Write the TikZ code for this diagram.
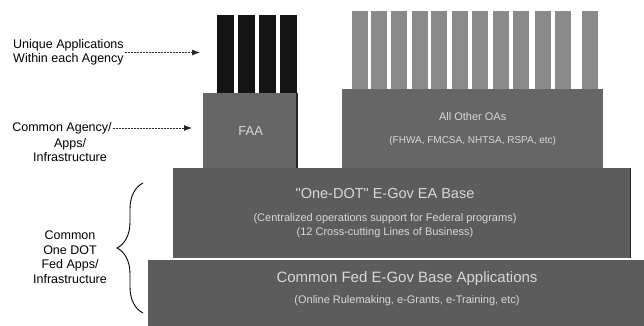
\documentclass[tikz,border=0pt]{standalone}
\usepackage{fontspec}
\setmainfont{Liberation Sans}
\usepackage{tikz}
\usetikzlibrary{shapes.geometric, arrows.meta, positioning, calc, decorations.pathreplacing}
\definecolor{bargray}{HTML}{8A8A8A}
\definecolor{boxgray}{HTML}{666666}
\definecolor{basegray}{HTML}{5C5C5C}
\definecolor{boxtext}{HTML}{D8D8D8}

\tikzset{
  blackbar/.style={fill=black!92, minimum width=16.5pt, minimum height=78pt, inner sep=0pt, anchor=north west},
  graybar/.style={fill=bargray, minimum width=15.5pt, minimum height=78pt, inner sep=0pt, anchor=north west},
  tier/.style={fill=boxgray, text=boxtext, align=center, inner sep=0pt, anchor=north west},
  tiertext/.style={text=boxtext, align=center, inner sep=0pt, font=\fontsize{11}{13.5}\selectfont},
  sidelbl/.style={font=\fontsize{12.5}{14.5}\selectfont, align=center, inner sep=1pt},
  pointer/.style={black!85, line width=0.8pt, dash pattern=on 2pt off 1pt, -{Latex[length=8pt,width=6pt]}}
}

\begin{document}
\begin{tikzpicture}[x=1pt, y=-1pt]
  \useasboundingbox (0,0) rectangle (644,326);

  % Application bars
  \foreach \x in {217,238,259,280} \node[blackbar] (u\x) at (\x,15) {};
  \foreach \x in {352,371,391,412,431,452,472,493,513,535,555,582} \node[graybar] (g\x) at (\x,11) {};

  % Agency tiers
  \node[tier, minimum width=95pt, minimum height=76pt, font=\fontsize{13}{15}\selectfont] (faa) at (203,93) {FAA};
  \draw[black!85, line width=2.5pt] ([xshift=-1.25pt]faa.north east) -- ([xshift=-1.25pt]faa.south east);
  \node[tier, minimum width=261pt, minimum height=80pt, font=\fontsize{10}{12}\selectfont] (oas) at (342,89)
    {{\fontsize{11}{12}\selectfont All Other OAs}\\[11pt] (FHWA, FMCSA, NHTSA, RSPA, etc)};

  % One-DOT and Fed bases
  \node[tier, fill=basegray, minimum width=458pt, minimum height=89.5pt] (ea) at (173,168) {};
  \draw[black!85, line width=1.2pt] ([xshift=-0.6pt]ea.north east) -- ([xshift=-0.6pt]ea.south east);
  \node[tiertext] (eatxt) at (385,213)
    {{\fontsize{14.5}{16}\selectfont \textquotedbl One-DOT\textquotedbl{} E-Gov EA Base}\\[9.5pt]
     (Centralized operations support for Federal programs)\\
     (12 Cross-cutting Lines of Business)};
  \node[tier, fill=basegray, minimum width=510pt, minimum height=70pt] (fed) at (148,259.5) {};
  \node[tiertext] (fedtxt) at (407,288.5)
    {{\fontsize{15}{13}\selectfont Common Fed E-Gov Base Applications}\\[8pt]
     (Online Rulemaking, e-Grants, e-Training, etc)};

  % Side labels
  \node[sidelbl, align=left, anchor=west] (uniquelbl) at (12,52.5) {Unique Applications\\Within each Agency};
  \coordinate (uniquetip) at (200,52.5);
  \draw[pointer] (uniquelbl) -- (uniquetip);

  \node[sidelbl] (agencylbl) at (62,128) {Common Agency/};
  \node[sidelbl] (agencyrest) at (70,150) {Apps/\\Infrastructure};
  \coordinate (agencytip) at (192,128);
  \draw[pointer] (agencylbl) -- (agencytip);

  \node[sidelbl] (dotlbl) at (70,257) {Common\\One DOT\\Fed Apps/\\Infrastructure};
  \draw[line width=0.9pt, decorate, decoration={brace, amplitude=26pt}] (143,313) -- (143,183);
\end{tikzpicture}
\end{document}
